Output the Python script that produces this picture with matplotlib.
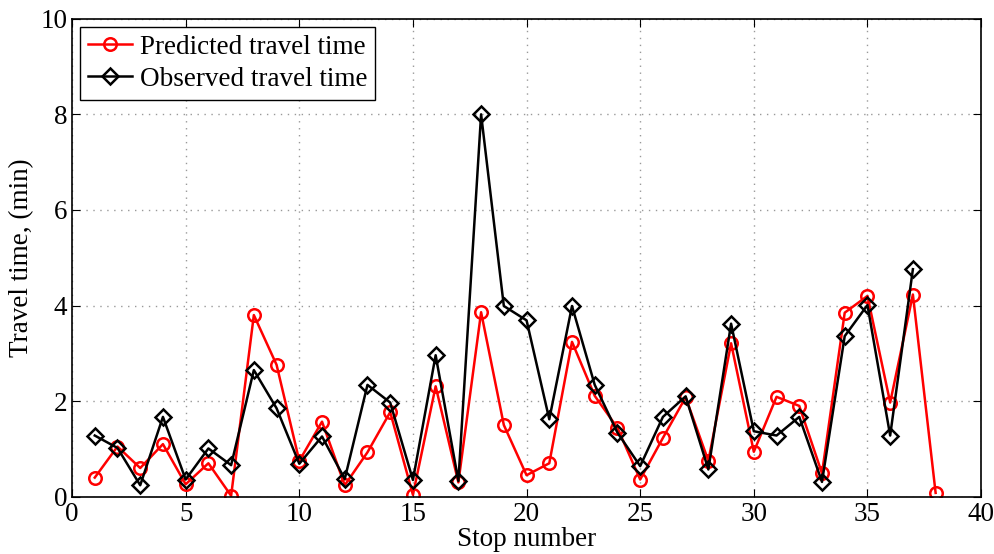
import matplotlib
matplotlib.use("Agg")
import matplotlib.pyplot as plt

# stop numbers
stops_pred = list(range(1, 39))
stops_obs = list(range(1, 38))

# predicted travel time (min)
predicted = [0.40, 1.05, 0.60, 1.10, 0.26, 0.70, 0.02, 3.80, 2.76, 0.75,
             1.57, 0.24, 0.93, 1.77, 0.04, 2.31, 0.30, 3.86, 1.50, 0.45,
             0.70, 3.24, 2.11, 1.44, 0.36, 1.23, 2.08, 0.75, 3.21, 0.94,
             2.09, 1.90, 0.49, 3.85, 4.20, 1.97, 4.23, 0.08]

# observed travel time (min)
observed = [1.28, 1.02, 0.24, 1.67, 0.36, 1.01, 0.66, 2.65, 1.85, 0.69,
            1.26, 0.37, 2.34, 1.97, 0.35, 2.96, 0.33, 8.00, 3.99, 3.69,
            1.62, 3.99, 2.34, 1.34, 0.64, 1.67, 2.10, 0.57, 3.62, 1.37,
            1.28, 1.67, 0.31, 3.36, 4.01, 1.28, 4.76]

plt.rcParams['font.family'] = ['Liberation Serif', 'DejaVu Serif']

fig = plt.figure(figsize=(9.95, 5.54), dpi=100)
ax = fig.add_axes([0.0724, 0.1034, 0.9136, 0.8628])

ax.plot(stops_pred, predicted, color='red', linewidth=1.8, marker='o',
        markersize=9, markerfacecolor='none', markeredgewidth=1.8,
        label='Predicted travel time')
ax.plot(stops_obs, observed, color='black', linewidth=1.8, marker='D',
        markersize=8, markerfacecolor='none', markeredgewidth=1.8,
        label='Observed travel time')

ax.set_xlim(0, 40)
ax.set_ylim(0, 10)
ax.set_xticks(range(0, 41, 5))
ax.set_yticks(range(0, 11, 2))
ax.tick_params(direction='in', top=True, right=True, labelsize=19.5, length=6)
ax.grid(True, linestyle=(0, (1, 4)), color='#999999', linewidth=1.0)
for s in ax.spines.values():
    s.set_linewidth(1.2)

ax.set_xlabel('Stop number', fontsize=19.5, labelpad=0)
ax.set_ylabel('Travel time, (min)', fontsize=19.5, labelpad=4)

leg = ax.legend(loc='upper left', fontsize=19.5, fancybox=False, framealpha=1,
                edgecolor='black', handlelength=1.6, borderpad=0.3,
                labelspacing=0.25, handletextpad=0.3, borderaxespad=0.3)
leg.get_frame().set_linewidth(1.0)

fig.savefig('out.png', dpi=100)
